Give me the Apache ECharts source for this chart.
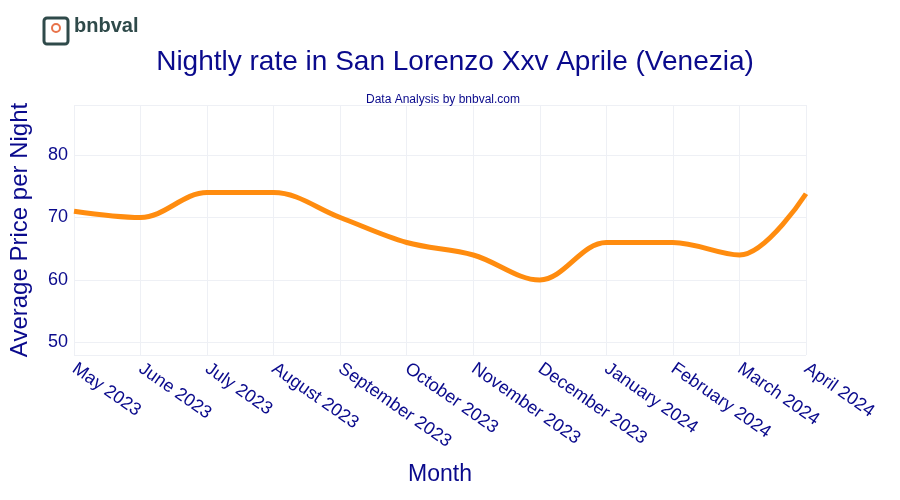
<!DOCTYPE html>
<html>
<head>
<meta charset="utf-8">
<script src="https://cdn.jsdelivr.net/npm/echarts@6/dist/echarts.min.js"></script>
<style>html,body{margin:0;padding:0;background:#fff}#main{width:900px;height:500px}</style>
</head>
<body>
<div id="main"></div>
<script>
var months = ['May 2023', 'June 2023', 'July 2023', 'August 2023', 'September 2023', 'October 2023',
    'November 2023', 'December 2023', 'January 2024', 'February 2024', 'March 2024', 'April 2024'];
var prices = [71, 70, 74, 74, 70, 66, 64, 60, 66, 66, 64, 73.8];
var yTicks = [50, 60, 70, 80];

var myChart = echarts.init(document.getElementById('main'));

var option = {
    backgroundColor: '#ffffff',
    textStyle: { fontFamily: 'Liberation Sans, Arial, sans-serif' },
    title: [{
        text: 'Nightly rate in San Lorenzo Xxv Aprile (Venezia)',
        left: 450, top: 43, textAlign: 'center',
        textStyle: { color: '#0a0a8c', fontSize: 28, fontWeight: 'normal' }
    }, {
        text: 'Data Analysis by bnbval.com',
        left: 438, top: 89, textAlign: 'center',
        textStyle: { color: '#0a0a8c', fontSize: 12, fontWeight: 'normal' }
    }],
    graphic: [
        { type: 'rect', shape: { x: 44, y: 18, width: 24, height: 26, r: 3 }, style: { fill: 'none', stroke: '#2f4a4a', lineWidth: 3 } },
        { type: 'circle', shape: { cx: 56, cy: 28, r: 4 }, style: { fill: 'none', stroke: '#e8734a', lineWidth: 2 } },
        { type: 'text', left: 74, top: 16, style: { text: 'bnbval', fill: '#2f4a4a', font: 'bold 20px Liberation Sans, Arial, sans-serif' } }
    ],
    grid: { left: 71, right: 94, top: 105, bottom: 145 },
    xAxis: {
        type: 'category',
        boundaryGap: false,
        data: months,
        name: 'Month',
        nameLocation: 'middle',
        nameGap: 108,
        nameTextStyle: { color: '#0a0a8c', fontSize: 23 },
        axisLine: { show: false },
        axisTick: { show: false },
        axisLabel: { color: '#0a0a8c', fontSize: 18, rotate: -35, margin: 12, align: 'left' },
        splitLine: { show: true, lineStyle: { color: '#eef0f5' } }
    },
    yAxis: {
        type: 'value',
        min: 48, max: 88,
        name: 'Average Price per Night',
        nameLocation: 'middle',
        nameGap: 42,
        nameTextStyle: { color: '#0a0a8c', fontSize: 24 },
        axisLine: { show: false },
        axisTick: { show: false },
        axisLabel: { color: '#0a0a8c', fontSize: 18, margin: 6, customValues: yTicks },
        splitLine: { show: true, lineStyle: { color: '#eef0f5' }, customValues: yTicks }
    },
    series: [{
        type: 'line',
        data: prices,
        smooth: 0.35,
        symbol: 'none',
        lineStyle: { color: '#ff8c0f', width: 5 }
    }]
};
myChart.setOption(option);
</script>
</body>
</html>
